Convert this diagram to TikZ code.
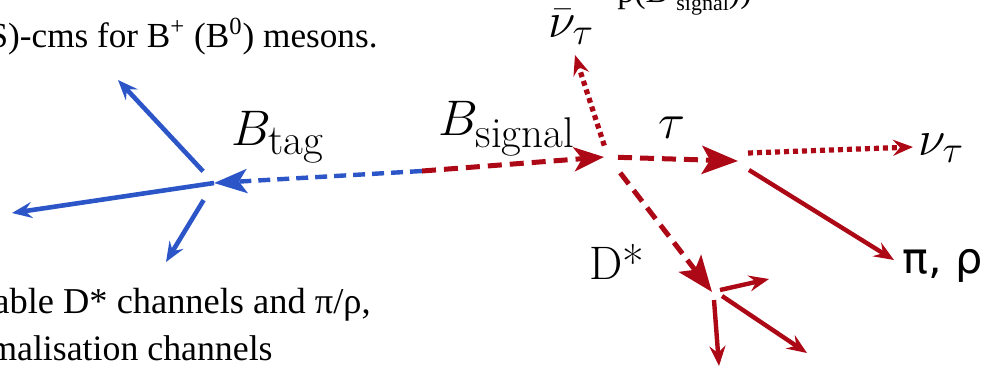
\documentclass[tikz,border=0pt]{standalone}
\usepackage{fix-cm}
\usepackage{fontspec}
\newfontfamily\tnr{Liberation Serif}
\newfontfamily\djv{DejaVu Sans}
\DeclareMathSizes{25}{25}{19}{15}
\newcommand{\subtxt}[1]{\mbox{\fontsize{21.5}{22}\selectfont #1}}
\usetikzlibrary{arrows.meta}
\definecolor{bred}{RGB}{172,8,22}
\definecolor{bblue}{RGB}{44,86,199}
\tikzset{
  reddash/.style={draw=bred, line width=2.5pt, dash pattern=on 7pt off 4pt},
  bluedash/.style={draw=bblue, line width=2.2pt, dash pattern=on 6pt off 3.5pt},
  reddot/.style={draw=bred, line width=2.6pt, dash pattern=on 2.5pt off 2pt},
  bluesolid/.style={draw=bblue, line width=2.3pt},
  redsolid/.style={draw=bred, line width=2.2pt},
  bigtip/.style={-{Stealth[length=18pt,width=14pt,inset=4pt]}},
  midtip/.style={-{Stealth[length=15pt,width=12pt,inset=4pt]}},
  smalltip/.style={-{Stealth[length=10pt,width=8pt,inset=3.5pt]}},
  lbl/.style={inner sep=0pt, anchor=base west, font=\fontsize{25}{29}\selectfont},
  doctext/.style={inner sep=0pt, font=\tnr\fontsize{17.6}{21}\selectfont},
}
\begin{document}
\begin{tikzpicture}[x=0.5pt,y=-0.5pt]
\useasboundingbox (0,0) rectangle (988,372);
\clip (0,0) rectangle (988,372);
% vertices
\coordinate (tagv) at (214,183);
\coordinate (sigv) at (608,157);
\coordinate (tauv) at (745,161);
\coordinate (nuS) at (748,153);
\coordinate (piS) at (749,170);
\coordinate (dv)   at (715,296);
\coordinate (d1S)  at (720,290);
\coordinate (d2S)  at (714,300);
\coordinate (d3S)  at (722,296);
\coordinate (mid)  at (422,171);
% tips
\coordinate (tagUL) at (118,80);
\coordinate (tagL)  at (12,213);
\coordinate (tagDL) at (166,262);
\coordinate (nubarT) at (575,55);
\coordinate (tauT) at (738,161);
\coordinate (dT) at (712,292);
\coordinate (nuT) at (913,147);
\coordinate (piT) at (894,260);
\coordinate (d1T) at (769,279);
\coordinate (d2T) at (719,366);
\coordinate (d3T) at (807,353);
% B pair
\draw[bluedash, -{Stealth[length=16.5pt,width=12pt,inset=4pt]}] (mid) -- (tagv);
\draw[reddash, midtip] (mid) -- ([xshift=-2]sigv);
% tag side
\draw[bluesolid, smalltip, shorten <=8] (tagv) -- (tagUL);
\draw[bluesolid, smalltip] (tagv) -- (tagL);
\draw[bluesolid, smalltip, shorten <=10] (tagv) -- (tagDL);
% signal side
\draw[reddot, smalltip, shorten <=6] (sigv) -- (nubarT);
\draw[reddash, bigtip, shorten <=5] (sigv) -- (tauT);
\draw[reddash, bigtip, shorten <=10] (sigv) -- (dT);
\draw[reddot, smalltip] (nuS) -- (nuT);
\draw[redsolid, smalltip] (piS) -- (piT);
\draw[redsolid, smalltip] (d1S) -- (d1T);
\draw[redsolid, smalltip] (d2S) -- (d2T);
\draw[redsolid, smalltip] (d3S) -- (d3T);
% labels
\node[lbl] (ltag) at (231,145) {$B_{\subtxt{tag}}$};
\node[lbl] (lsig) at (438,135) {$B_{\subtxt{signal}}$};
\node[lbl] (lnubar) at (548,37) {$\bar{\nu}_\tau$};
\node[lbl] (ltau) at (658,138) {$\tau$};
\node[lbl] (lnu) at (918,155) {$\nu_\tau$};
\node[lbl, font=\fontsize{23.5}{27}\selectfont] (ld) at (589,279) {D*};
\node[lbl, font=\djv\fontsize{21.5}{25}\selectfont] (lpi) at (902,273) {π, ρ};
% surrounding document text
\node[doctext, anchor=base east] (t1) at (378,47) {(5S)-cms for B\textsuperscript{+} (B\textsuperscript{0}) mesons.};
\node[doctext, font=\tnr\fontsize{17}{20}\selectfont, anchor=base west] (t0) at (617,2) {p(B\hspace{4pt}\raisebox{-4pt}{\fontsize{11}{11}\selectfont signal}))};
\node[doctext, font=\tnr\fontsize{18.2}{21}\selectfont, anchor=base east] (t2) at (371,313) {able D* channels and π/ρ,};
\node[doctext, font=\tnr\fontsize{17.9}{21}\selectfont, anchor=base east] (t3) at (273,360) {malisation channels};
\end{tikzpicture}
\end{document}
